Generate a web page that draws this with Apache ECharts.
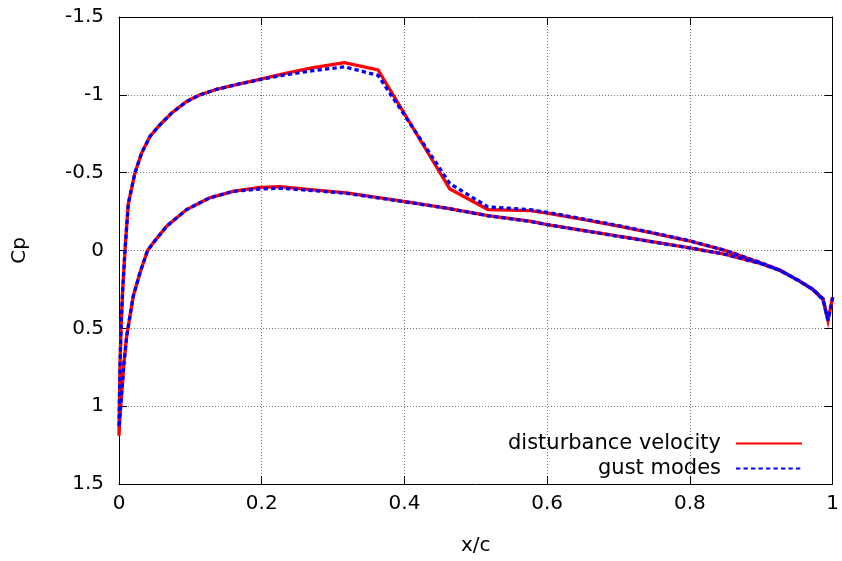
<!DOCTYPE html>
<html>
<head>
<meta charset="utf-8">
<script src="https://cdn.jsdelivr.net/npm/echarts@6/dist/echarts.min.js"></script>
<style>
  html, body { margin: 0; padding: 0; background: #fff; }
  #chart { width: 842px; height: 561px; }
</style>
</head>
<body>
<div id="chart"></div>
<script>
// Chordwise stations, leading edge -> trailing edge
const chordUpper = [0, 0.0005, 0.0014, 0.0028, 0.0052, 0.0084, 0.013, 0.0177, 0.0224, 0.0317,
  0.0434, 0.0574, 0.0738, 0.0948, 0.1134, 0.137, 0.169, 0.2, 0.235, 0.272, 0.316, 0.363,
  0.4636, 0.517, 0.576, 0.6, 0.65, 0.7, 0.75, 0.8, 0.85, 0.9, 0.926, 0.954, 0.9725, 0.9865,
  0.9935, 1.0];
const chordLower = [0, 0.0014, 0.0042, 0.007, 0.0108, 0.0154, 0.02, 0.0294, 0.04, 0.048,
  0.0668, 0.0948, 0.127, 0.16, 0.197, 0.2255, 0.272, 0.319, 0.399, 0.459, 0.517, 0.576, 0.6,
  0.7, 0.8, 0.85, 0.9, 0.926, 0.954, 0.9725, 0.9865, 0.9935];

// Pressure coefficient, disturbance velocity model
const cpUpperDisturbance = [1.19, 1.0, 0.74, 0.5, 0.25, 0.0, -0.30, -0.40, -0.50, -0.626,
  -0.733, -0.808, -0.883, -0.957, -1.0, -1.036, -1.07, -1.103, -1.14, -1.175, -1.207, -1.16,
  -0.395, -0.263, -0.256, -0.24, -0.2, -0.157, -0.11, -0.06, 0.0, 0.08, 0.126, 0.197, 0.25,
  0.31, 0.45, 0.30];
const cpLowerDisturbance = [1.19, 1.06, 0.89, 0.72, 0.55, 0.42, 0.293, 0.143, 0.0, -0.049,
  -0.156, -0.263, -0.338, -0.38, -0.405, -0.41, -0.39, -0.37, -0.316, -0.273, -0.224, -0.188,
  -0.167, -0.092, -0.017, 0.025, 0.085, 0.128, 0.198, 0.252, 0.315, 0.45];

// Pressure coefficient, gust modes model
const cpUpperGust = [1.135, 1.0, 0.74, 0.5, 0.25, 0.0, -0.30, -0.40, -0.50, -0.626,
  -0.733, -0.808, -0.883, -0.957, -1.0, -1.036, -1.07, -1.10, -1.13, -1.155, -1.18, -1.125,
  -0.43, -0.28, -0.262, -0.245, -0.203, -0.16, -0.112, -0.062, 0.0, 0.08, 0.126, 0.197, 0.25,
  0.31, 0.45, 0.30];
const cpLowerGust = [1.135, 1.06, 0.89, 0.72, 0.55, 0.42, 0.293, 0.143, 0.0, -0.049,
  -0.156, -0.263, -0.338, -0.38, -0.395, -0.40, -0.385, -0.367, -0.314, -0.272, -0.223, -0.187,
  -0.166, -0.091, -0.016, 0.025, 0.085, 0.128, 0.198, 0.252, 0.315, 0.45];

const seriesNames = ['disturbance velocity', 'gust modes'];

// Closed loop around the section: upper surface TE -> LE, then lower surface LE -> TE
function surfaceLoop(cpUp, cpLo) {
  const pts = [];
  for (let i = chordUpper.length - 1; i >= 0; i--) pts.push([chordUpper[i], cpUp[i]]);
  for (let i = 1; i < chordLower.length; i++) pts.push([chordLower[i], cpLo[i]]);
  return pts;
}

const FONT = 'DejaVu Sans';
const gridLine = { show: true, lineStyle: { color: '#777', width: 1, type: [1, 2] } };
const tick = { show: true, inside: true, length: 8, lineStyle: { color: '#000', width: 1 } };
const line = { show: true, onZero: false, lineStyle: { color: '#000', width: 1 } };

const chart = echarts.init(document.getElementById('chart'), null, { renderer: 'canvas' });
chart.setOption({
  animation: false,
  backgroundColor: '#fff',
  textStyle: { fontFamily: FONT, color: '#000' },
  grid: { left: 119, right: 9, top: 17, bottom: 76 },
  legend: {
    orient: 'vertical',
    align: 'right',
    right: 39,
    top: 433,
    padding: 0,
    itemGap: 4,
    itemWidth: 66,
    itemHeight: 14,
    itemStyle: { opacity: 0 },
    textStyle: { fontFamily: FONT, fontSize: 21, color: '#000', lineHeight: 20, padding: [0, 10, 0, 0] },
    data: seriesNames
  },
  xAxis: [
    {
      type: 'value', min: 0, max: 1, interval: 0.2, position: 'bottom',
      name: 'x/c', nameLocation: 'middle', nameGap: 52,
      nameTextStyle: { fontFamily: FONT, fontSize: 20, color: '#000' },
      axisLine: line, axisTick: tick, splitLine: gridLine,
      axisLabel: { margin: 10, fontFamily: FONT, fontSize: 20, color: '#000' }
    },
    {
      type: 'value', min: 0, max: 1, interval: 0.2, position: 'top',
      axisLine: line, axisTick: tick, splitLine: { show: false }, axisLabel: { show: false }
    }
  ],
  yAxis: [
    {
      type: 'value', min: -1.5, max: 1.5, interval: 0.5, inverse: true, position: 'left',
      name: 'Cp', nameLocation: 'middle', nameGap: 89, nameRotate: 90,
      nameTextStyle: { fontFamily: FONT, fontSize: 20, color: '#000' },
      axisLine: line, axisTick: tick, splitLine: gridLine,
      axisLabel: { margin: 15, fontFamily: FONT, fontSize: 20, color: '#000' }
    },
    {
      type: 'value', min: -1.5, max: 1.5, interval: 0.5, inverse: true, position: 'right',
      axisLine: line, axisTick: tick, splitLine: { show: false }, axisLabel: { show: false }
    }
  ],
  series: [
    {
      name: seriesNames[0], type: 'line', xAxisIndex: 0, yAxisIndex: 0,
      data: surfaceLoop(cpUpperDisturbance, cpLowerDisturbance),
      showSymbol: false, symbol: 'none', clip: false, z: 2,
      itemStyle: { color: '#ff0000' },
      lineStyle: { color: '#ff0000', width: 3.3, type: 'solid', join: 'miter' }
    },
    {
      name: seriesNames[1], type: 'line', xAxisIndex: 0, yAxisIndex: 0,
      data: surfaceLoop(cpUpperGust, cpLowerGust),
      showSymbol: false, symbol: 'none', clip: false, z: 3,
      itemStyle: { color: '#0000ff' },
      lineStyle: { color: '#0000ff', width: 3.3, type: [4.3, 3.2] }
    }
  ]
});
</script>
</body>
</html>
